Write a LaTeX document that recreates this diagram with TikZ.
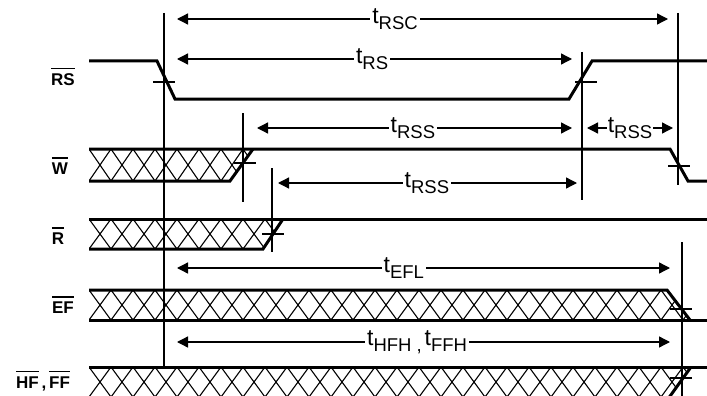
\documentclass[tikz,border=0pt]{standalone}
\usepackage{fontspec}
\setmainfont{Liberation Sans}
\usetikzlibrary{arrows.meta}

% rótulo de tempo t_{xx}
\newcommand{\tempo}[1]{{\fontsize{23}{23}\selectfont t}\raisebox{-6pt}{\fontsize{18.5}{18.5}\selectfont #1}}
% nome de sinal barrado
\newcommand{\barra}[1]{\vbox{\hrule height 1.2pt \kern 4.5pt \hbox{#1}}}

\begin{document}
\begin{tikzpicture}[x=1pt,y=-1pt,>={Triangle[length=11pt,width=11pt]},
	sinal/.style={line width=3pt},
	guia/.style={line width=1.6pt},
	cota/.style={<->,line width=1.3pt},
	hach/.style={line width=1.1pt},
	rot/.style={fill=white,inner sep=2pt},
	nome/.style={font=\fontsize{17}{18}\selectfont\bfseries}]
	
	\useasboundingbox (0,0) rectangle (707,396);
	\clip (0,0) rectangle (707,396);
	
	% nomes dos sinais
	\node[nome] (nRS) at (63,77) {\barra{RS}};
	\node[nome] (nW) at (60,166) {\barra{W}};
	\node[nome] (nR) at (58,236) {\barra{R}};
	\node[nome] (nEF) at (63,305) {\barra{EF}};
	\node[nome] (nHF) at (43,381) {\barra{HF}\,,\,\barra{FF}};
	
	% linhas de referência
	\draw[guia] (164,13) -- (164,367);
	\draw[guia] (582,52) -- (582,200);
	\draw[guia] (678,13) -- (678,185);
	\draw[guia] (243,113) -- (243,202);
	\draw[guia] (272,168) -- (272,252);
	\draw[guia] (682,242) -- (682,396);
	
	% RS
	\draw[sinal] (89,61) -- (157,61) -- (175,99) -- (569,99) -- (592,61) -- (707,61);
	
	% W (hachurado)
	\begin{scope}
		\clip (89,149) -- (253,149) -- (230,181) -- (89,181) -- cycle;
		\foreach \k in {0,...,8}
			\draw[hach] (89+22*\k,149) -- ++(22,32) (89+22*\k,181) -- ++(22,-32);
	\end{scope}
	\draw[sinal] (89,149) -- (670,149) -- (688,181) -- (707,181);
	\draw[sinal] (89,181) -- (230,181) -- (253,149);
	
	% R (hachurado)
	\begin{scope}
		\clip (89,219) -- (283,219) -- (263,249) -- (89,249) -- cycle;
		\foreach \k in {0,...,9}
			\draw[hach] (89+22*\k,219) -- ++(22,30) (89+22*\k,249) -- ++(22,-30);
	\end{scope}
	\draw[sinal] (89,219) -- (707,219);
	\draw[sinal] (89,249) -- (263,249) -- (283,219);
	
	% EF (hachurado)
	\begin{scope}
		\clip (89,290) -- (667,290) -- (690,320) -- (89,320) -- cycle;
		\foreach \k in {0,...,27}
			\draw[hach] (89+22*\k,290) -- ++(22,30) (89+22*\k,320) -- ++(22,-30);
	\end{scope}
	\draw[sinal] (89,290) -- (667,290) -- (690,320);
	\draw[sinal] (89,320) -- (707,320);
	
	% HF, FF (hachurado)
	\begin{scope}
		\clip (89,367) -- (691,367) -- (668,399) -- (89,399) -- cycle;
		\foreach \k in {0,...,27}
			\draw[hach] (89+22*\k,367) -- ++(22,30) (89+22*\k,397) -- ++(22,-30);
	\end{scope}
	\draw[sinal] (89,367) -- (707,367);
	\draw[sinal] (668,399) -- (691,367);
	
	% marcas nos cruzamentos
	\foreach \x/\y in {164/82,586/82,245/163,679/166,273/234,681/309,681/378}
		\draw[guia] (\x-11,\y) -- (\x+11,\y);
	
	% pontos das cotas
	\coordinate (rscA) at (177,19);  \coordinate (rscB) at (668,19);
	\coordinate (rsA) at (177,59);   \coordinate (rsB) at (572,59);
	\coordinate (rssA) at (257,128); \coordinate (rssB) at (572,128);
	\coordinate (rssC) at (587,128); \coordinate (rssD) at (673,128);
	\coordinate (rssE) at (278,183); \coordinate (rssF) at (577,183);
	\coordinate (eflA) at (177,268); \coordinate (eflB) at (670,268);
	\coordinate (hfhA) at (177,342); \coordinate (hfhB) at (670,342);
	
	% cotas
	\draw[cota] (rscA) -- (rscB) node[rot,pos=0.444] (lRSC) {\tempo{RSC}};
	\draw[cota] (rsA) -- (rsB) node[rot,pos=0.494] (lRS) {\tempo{RS}};
	\draw[cota] (rssA) -- (rssB) node[rot,pos=0.495] (lRSS1) {\tempo{RSS}};
	\draw[cota] (rssC) -- (rssD) node[rot,inner sep=1pt,pos=0.5] (lRSS2) {\tempo{RSS}};
	\draw[cota] (rssE) -- (rssF) node[rot,pos=0.498] (lRSS3) {\tempo{RSS}};
	\draw[cota] (eflA) -- (eflB) node[rot,pos=0.46] (lEFL) {\tempo{EFL}};
	\draw[cota] (hfhA) -- (hfhB) node[rot,pos=0.487] (lHFH) {\tempo{HFH ,}\ \tempo{FFH}};
	
\end{tikzpicture}
\end{document}
